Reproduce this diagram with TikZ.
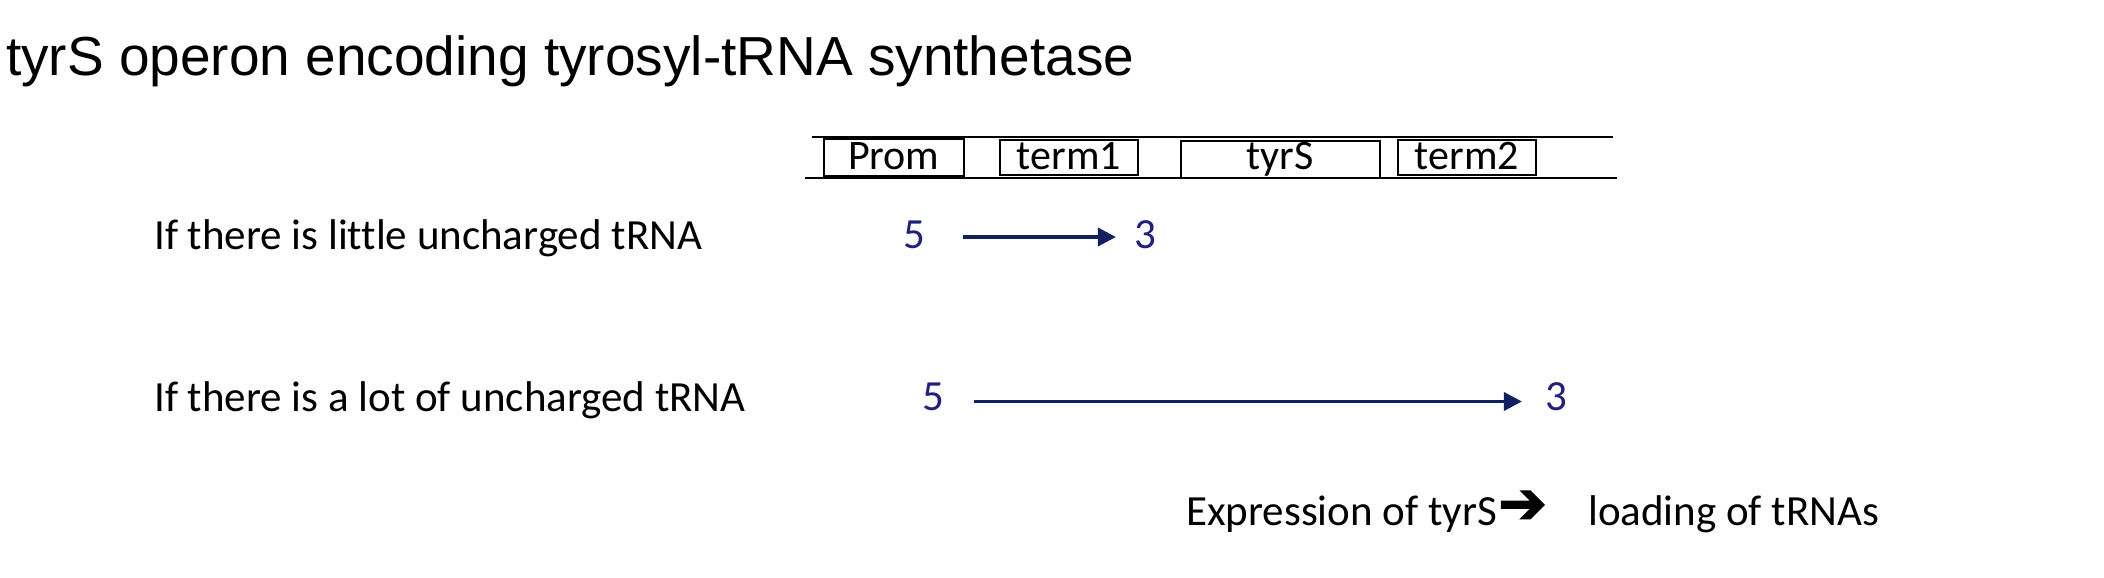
\documentclass[tikz,border=0pt]{standalone}
\usepackage{fontspec}
\setmainfont{Carlito}[Ligatures=NoCommon]
\newfontfamily\titlefont{Liberation Sans}
\newfontfamily\symfont{DejaVu Sans}[FakeBold=2.5]
\usetikzlibrary{arrows.meta}
\definecolor{numcol}{RGB}{32,32,128}
\definecolor{arrcol}{RGB}{16,32,96}
\begin{document}
\begin{tikzpicture}[x=1pt,y=-1pt,
  txt/.style={inner sep=0pt, anchor=base west, font=\fontsize{43}{50}\selectfont},
  gene/.style={draw, line width=1.6pt, inner sep=0pt, anchor=north west, font=\fontsize{42}{48}\selectfont},
  num/.style={inner sep=0pt, anchor=base, text=numcol, font=\fontsize{43}{50}\selectfont, text depth=0pt},
  flow/.style={draw=arrcol, line width=3.5pt, -{Triangle[length=18pt,width=18pt]}},
  strand/.style={line width=1.8pt}]
\path[use as bounding box] (0,0) rectangle (2104,578);
% title
\node[inner sep=0pt, anchor=base west, font=\titlefont\fontsize{55}{62}\selectfont] (title) at (6,76) {tyrS operon encoding tyrosyl-tRNA synthetase};
% operon strands
\coordinate (t1) at (812,137.3);
\coordinate (t2) at (1613,137.3);
\coordinate (b1) at (805,177.7);
\coordinate (b2) at (1617,177.7);
\draw[strand] (t1) -- (t2);
\draw[strand] (b1) -- (b2);
% gene boxes
\node[gene, minimum width=140pt, text height=31pt, text depth=6pt] (prom) at (823,138) {Prom};
\node[gene, minimum width=138pt, text height=30pt, text depth=5pt] (term1) at (999,139) {term1};
\node[gene, minimum width=199pt, text height=29pt, text depth=8pt] (tyrs) at (1180,140) {tyrS};
\node[gene, minimum width=138pt, text height=30pt, text depth=5pt] (term2) at (1397,139) {term2};
% row 1
\node[txt] (lab1) at (154,249) {If there is little uncharged tRNA};
\node[num, text height=22pt] (a5) at (914,248) {5};
\node[num, text height=22pt] (a3) at (1145,248) {3};
\draw[flow, shorten <=38pt, shorten >=18pt] (a5.east) -- (a3.west);
% row 2
\node[txt] (lab2) at (154,411) {If there is a lot of uncharged tRNA};
\node[num, text height=17pt] (b5) at (933.5,410) {5};
\node[num, text height=17pt] (b3) at (1556,410) {3};
\draw[flow, shorten <=29.6pt, shorten >=23pt] (b5.east) -- (b3.west);
% bottom
\node[txt] (expr) at (1186,525) {Expression of tyrS};
\node[inner sep=0pt, anchor=base west, font=\symfont\bfseries\fontsize{58}{64}\selectfont] (arr) at (1498,523) {➔};
\node[txt] (load) at (1588,525) {loading of tRNAs};
\end{tikzpicture}
\end{document}
